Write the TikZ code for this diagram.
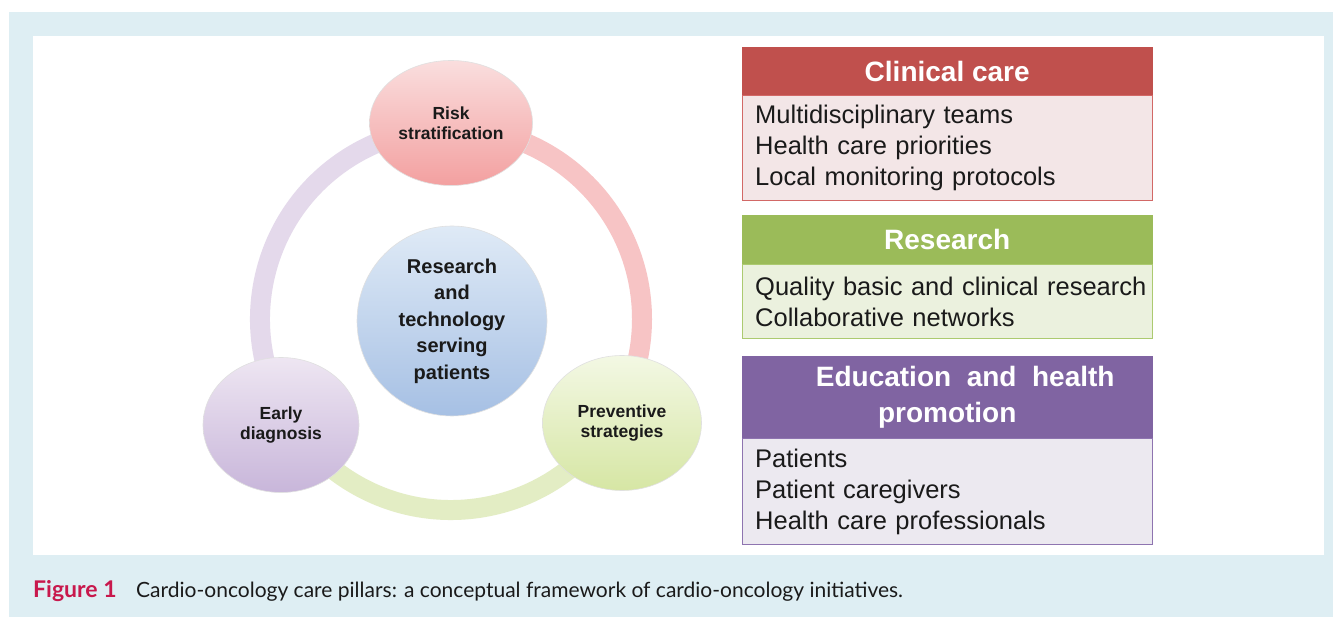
\documentclass[tikz,border=0pt]{standalone}
\usepackage{fontspec}
\setmainfont{Liberation Sans}
\newfontfamily\capfont{Lato}
\usetikzlibrary{shapes,positioning}

\definecolor{panelblue}{RGB}{222,238,243}
\definecolor{ccred}{RGB}{192,80,77}
\definecolor{ccpink}{RGB}{243,230,231}
\definecolor{ccedge}{RGB}{210,104,102}
\definecolor{rsgreen}{RGB}{155,187,89}
\definecolor{rslight}{RGB}{235,241,222}
\definecolor{rsedge}{RGB}{172,202,112}
\definecolor{edpurple}{RGB}{128,100,162}
\definecolor{edlight}{RGB}{236,233,240}
\definecolor{ededge}{RGB}{142,116,176}
\definecolor{ringpink}{RGB}{247,196,197}
\definecolor{ringgreen}{RGB}{227,237,196}
\definecolor{ringlav}{RGB}{228,217,235}
\definecolor{figred}{RGB}{200,24,76}
\definecolor{bodytext}{RGB}{26,26,26}

\begin{document}
\begin{tikzpicture}[x=1pt,y=-1pt,
pillar/.style={ellipse,inner sep=0pt,draw=black!12,line width=0.6pt,align=center,
  font=\fontsize{17.5}{19.5}\selectfont\bfseries,text=bodytext},
head/.style={rectangle,minimum width=410pt,inner sep=0pt,align=center,text=white,
  font=\fontsize{28}{36}\selectfont\bfseries},
body/.style={rectangle,minimum width=410pt,text width=384pt,inner xsep=13pt,align=left,
  text=bodytext,font=\fontsize{25.5}{31}\selectfont}]

% panels
\useasboundingbox (0,0) rectangle (1333,617);
\fill[panelblue] (9,12) rectangle (1333,617);
\fill[white] (33,36) rectangle (1324,555);

% ring
\coordinate (ringc) at (451,319);
\foreach \from/\to/\col in {-90/31/ringpink, 31/148/ringgreen, 148/270/ringlav}
  \draw[line width=20pt,\col] (ringc) ++(\from:191) arc[start angle=\from,end angle=\to,radius=191];

% pillars
\node[pillar, minimum width=163pt, minimum height=125pt,
  top color={rgb,255:red,250;green,222;blue,222}, bottom color={rgb,255:red,243;green,160;blue,160}]
  (risk) at (451,123) {Risk\\stratification};
\node[pillar, minimum width=156pt, minimum height=135pt,
  top color={rgb,255:red,238;green,230;blue,242}, bottom color={rgb,255:red,200;green,182;blue,218}]
  (early) at (281,425) {Early\\diagnosis};
\node[pillar, minimum width=159pt, minimum height=135pt,
  top color={rgb,255:red,243;green,248;blue,228}, bottom color={rgb,255:red,214;green,230;blue,164}]
  (prevent) at (622,423) {Preventive\\strategies};
\node[pillar, circle, minimum size=190pt, font=\fontsize{20}{26.5}\selectfont\bfseries,
  top color={rgb,255:red,223;green,234;blue,246}, bottom color={rgb,255:red,166;green,192;blue,228}]
  (core) at (452,321) {Research\\and\\technology\\serving\\patients};

% boxes
\node[head, fill=ccred, draw=ccred, minimum height=48pt, anchor=north west] (cchead) at (742,47) {Clinical care};
\node[body, fill=ccpink, draw=ccedge, minimum height=105pt, below=0pt of cchead] (ccbody)
  {Multidisciplinary teams\\Health care priorities\\Local monitoring protocols};

\node[head, fill=rsgreen, draw=rsgreen, minimum height=49pt, anchor=north west] (rshead) at (742,215) {Research};
\node[body, fill=rslight, draw=rsedge, minimum height=74pt, below=0pt of rshead] (rsbody)
  {\mbox{Quality basic and clinical research}\\Collaborative networks};

\node[head, fill=edpurple, draw=edpurple, minimum height=82pt, anchor=north west] (edhead) at (742,356)
  {\hspace*{36pt}Education\ \ and\ \ health\\promotion};
\node[body, fill=edlight, draw=ededge, minimum height=106pt, below=0pt of edhead] (edbody)
  {Patients\\Patient caregivers\\Health care professionals};

% caption
\node[anchor=base west, inner sep=0pt, font=\capfont\fontsize{23}{26}\selectfont\bfseries, text=figred] (figlabel) at (33,597)
  {Figure 1};
\node[anchor=base west, inner sep=0pt, font=\capfont\fontsize{21}{24}\selectfont, text=bodytext] (caption) at (136,597)
  {Cardio-oncology care pillars: a conceptual framework of cardio-oncology initiatives.};
\end{tikzpicture}
\end{document}
